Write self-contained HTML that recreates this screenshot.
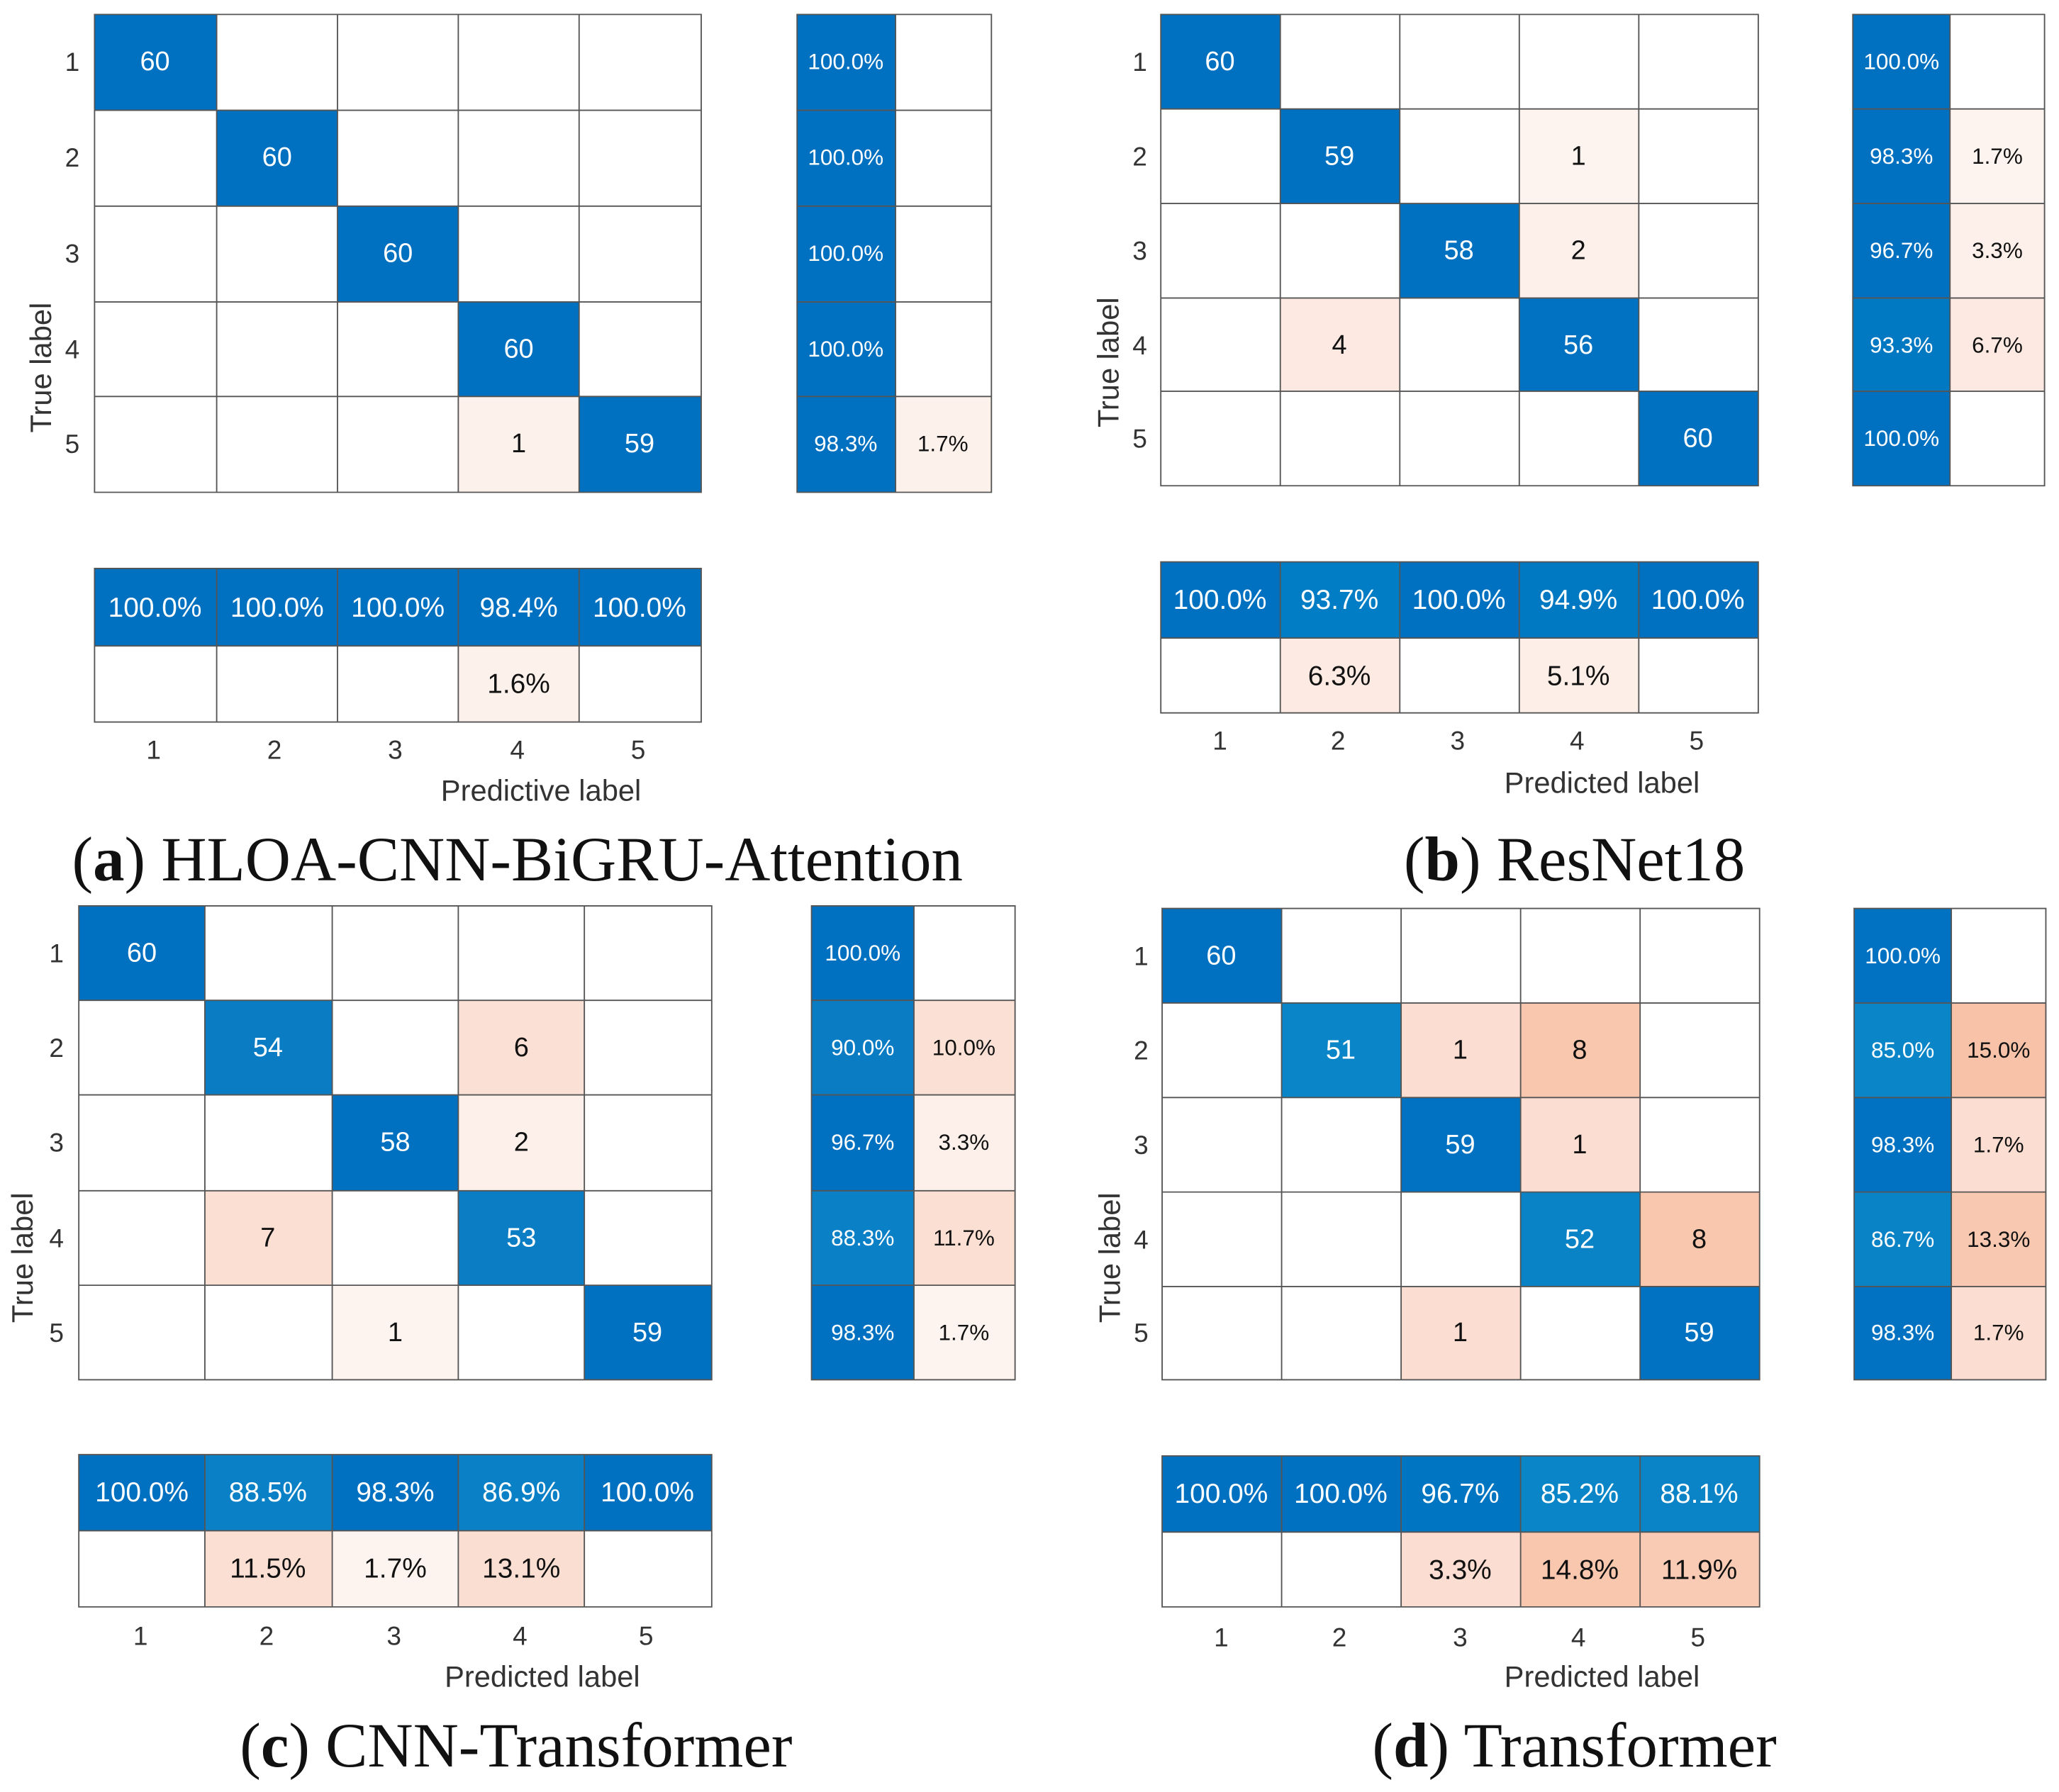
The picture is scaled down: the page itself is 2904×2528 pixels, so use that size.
<!DOCTYPE html>
<html><head><meta charset="utf-8"><style>
html,body{margin:0;padding:0;background:#fff;}
svg{display:block;}
.n{font-family:"Liberation Sans",sans-serif;font-size:20.5px;text-anchor:middle;dominant-baseline:central;}
.s{font-family:"Liberation Sans",sans-serif;font-size:17px;text-anchor:middle;dominant-baseline:central;}
.b{font-size:21px;}
.w{fill:#fff;} .k{fill:#111;}
.t{font-family:"Liberation Sans",sans-serif;font-size:20px;fill:#333;text-anchor:middle;dominant-baseline:central;}
.ax{font-family:"Liberation Sans",sans-serif;font-size:22.5px;fill:#333;text-anchor:middle;dominant-baseline:central;}
.cap{font-family:"Liberation Serif",serif;font-size:48px;fill:#111;text-anchor:middle;dominant-baseline:central;}
.g{fill:none;stroke:#555;stroke-width:1;}
</style></head><body>
<svg width="2904" height="2528" viewBox="0 0 1568 1365" xmlns="http://www.w3.org/2000/svg">
<rect width="1568" height="1365" fill="#fff"/>

<!-- ===== Panel A ===== -->
<g>
<rect x="72" y="11" width="93" height="73" fill="#0070c0"/>
<rect x="165" y="84" width="92" height="73" fill="#0070c0"/>
<rect x="257" y="157" width="92" height="73" fill="#0070c0"/>
<rect x="349" y="230" width="92" height="72" fill="#0070c0"/>
<rect x="441" y="302" width="93" height="73" fill="#0070c0"/>
<rect x="349" y="302" width="92" height="73" fill="#fdf1ec"/>
<path class="g" d="M72 11H534V375H72Z M165 11V375 M257 11V375 M349 11V375 M441 11V375 M72 84H534 M72 157H534 M72 230H534 M72 302H534"/>
<text class="n w" x="118" y="47">60</text><text class="n w" x="211" y="120">60</text><text class="n w" x="303" y="193">60</text><text class="n w" x="395" y="266">60</text><text class="n w" x="487" y="338">59</text><text class="n k" x="395" y="338">1</text>
<rect x="607" y="11" width="75" height="364" fill="#0070c0"/>
<rect x="682" y="302" width="73" height="73" fill="#fdf1ec"/>
<path class="g" d="M607 11H755V375H607Z M682 11V375 M607 84H755 M607 157H755 M607 230H755 M607 302H755"/>
<text class="s w" x="644" y="47">100.0%</text><text class="s w" x="644" y="120">100.0%</text><text class="s w" x="644" y="193">100.0%</text><text class="s w" x="644" y="266">100.0%</text><text class="s w" x="644" y="338">98.3%</text><text class="s k" x="718" y="338">1.7%</text>
<rect x="72" y="433" width="462" height="59" fill="#0070c0"/>
<rect x="349" y="492" width="92" height="58" fill="#fdf1ec"/>
<path class="g" d="M72 433H534V550H72Z M165 433V550 M257 433V550 M349 433V550 M441 433V550 M72 492H534"/>
<text class="n b w" x="118" y="463">100.0%</text><text class="n b w" x="211" y="463">100.0%</text><text class="n b w" x="303" y="463">100.0%</text><text class="n b w" x="395" y="463">98.4%</text><text class="n b w" x="487" y="463">100.0%</text><text class="n b k" x="395" y="521">1.6%</text>
<text class="t" x="55" y="47">1</text><text class="t" x="55" y="120">2</text><text class="t" x="55" y="193">3</text><text class="t" x="55" y="266">4</text><text class="t" x="55" y="338">5</text>
<text class="t" x="117" y="571">1</text><text class="t" x="209" y="571">2</text><text class="t" x="301" y="571">3</text><text class="t" x="394" y="571">4</text><text class="t" x="486" y="571">5</text>
<text class="ax" x="412" y="602">Predictive label</text>
<text class="ax" transform="translate(31,280) rotate(-90)">True label</text>
<text class="cap" x="394" y="655">(<tspan font-weight="bold">a</tspan>) HLOA-CNN-BiGRU-Attention</text>
</g>

<!-- ===== Panel B ===== -->
<g>
<rect x="884" y="11" width="91" height="72" fill="#0070c0"/>
<rect x="975" y="83" width="91" height="72" fill="#0070c0"/>
<rect x="1066" y="155" width="91" height="72" fill="#0070c0"/>
<rect x="1157" y="227" width="91" height="71" fill="#0072c1"/>
<rect x="1248" y="298" width="91" height="72" fill="#0070c0"/>
<rect x="1157" y="83" width="91" height="72" fill="#fdf3ef"/>
<rect x="1157" y="155" width="91" height="72" fill="#fdf0ea"/>
<rect x="975" y="227" width="91" height="71" fill="#fde9e1"/>
<path class="g" d="M884 11H1339V370H884Z M975 11V370 M1066 11V370 M1157 11V370 M1248 11V370 M884 83H1339 M884 155H1339 M884 227H1339 M884 298H1339"/>
<text class="n w" x="929" y="47">60</text><text class="n w" x="1020" y="119">59</text><text class="n w" x="1111" y="191">58</text><text class="n w" x="1202" y="263">56</text><text class="n w" x="1293" y="334">60</text>
<text class="n k" x="1202" y="119">1</text><text class="n k" x="1202" y="191">2</text><text class="n k" x="1020" y="263">4</text>
<rect x="1411" y="11" width="74" height="359" fill="#0070c0"/>
<rect x="1411" y="227" width="74" height="71" fill="#0079c2"/>
<rect x="1485" y="83" width="72" height="72" fill="#fdf3ef"/>
<rect x="1485" y="155" width="72" height="72" fill="#fdf0ea"/>
<rect x="1485" y="227" width="72" height="71" fill="#fde9e1"/>
<path class="g" d="M1411 11H1557V370H1411Z M1485 11V370 M1411 83H1557 M1411 155H1557 M1411 227H1557 M1411 298H1557"/>
<text class="s w" x="1448" y="47">100.0%</text><text class="s w" x="1448" y="119">98.3%</text><text class="s w" x="1448" y="191">96.7%</text><text class="s w" x="1448" y="263">93.3%</text><text class="s w" x="1448" y="334">100.0%</text>
<text class="s k" x="1521" y="119">1.7%</text><text class="s k" x="1521" y="191">3.3%</text><text class="s k" x="1521" y="263">6.7%</text>
<rect x="884" y="428" width="455" height="58" fill="#0070c0"/>
<rect x="975" y="428" width="91" height="58" fill="#007dc4"/>
<rect x="1157" y="428" width="91" height="58" fill="#0078c2"/>
<rect x="975" y="486" width="91" height="57" fill="#fdebe3"/>
<rect x="1157" y="486" width="91" height="57" fill="#fdeee7"/>
<path class="g" d="M884 428H1339V543H884Z M975 428V543 M1066 428V543 M1157 428V543 M1248 428V543 M884 486H1339"/>
<text class="n b w" x="929" y="457">100.0%</text><text class="n b w" x="1020" y="457">93.7%</text><text class="n b w" x="1111" y="457">100.0%</text><text class="n b w" x="1202" y="457">94.9%</text><text class="n b w" x="1293" y="457">100.0%</text>
<text class="n b k" x="1020" y="515">6.3%</text><text class="n b k" x="1202" y="515">5.1%</text>
<text class="t" x="868" y="47">1</text><text class="t" x="868" y="119">2</text><text class="t" x="868" y="191">3</text><text class="t" x="868" y="263">4</text><text class="t" x="868" y="334">5</text>
<text class="t" x="929" y="564">1</text><text class="t" x="1019" y="564">2</text><text class="t" x="1110" y="564">3</text><text class="t" x="1201" y="564">4</text><text class="t" x="1292" y="564">5</text>
<text class="ax" x="1220" y="596">Predicted label</text>
<text class="ax" transform="translate(844,276) rotate(-90)">True label</text>
<text class="cap" x="1199" y="655">(<tspan font-weight="bold">b</tspan>) ResNet18</text>
</g>

<!-- ===== Panel C ===== -->
<g>
<rect x="60" y="690" width="96" height="72" fill="#0070c0"/>
<rect x="156" y="762" width="97" height="72" fill="#0a7cc4"/>
<rect x="253" y="834" width="96" height="73" fill="#0070c0"/>
<rect x="349" y="907" width="96" height="72" fill="#0a7dc4"/>
<rect x="445" y="979" width="97" height="72" fill="#0070c0"/>
<rect x="349" y="762" width="96" height="72" fill="#fbe0d5"/>
<rect x="349" y="834" width="96" height="73" fill="#fdefe9"/>
<rect x="156" y="907" width="97" height="72" fill="#fbdfd3"/>
<rect x="253" y="979" width="96" height="72" fill="#fdf3ef"/>
<path class="g" d="M60 690H542V1051H60Z M156 690V1051 M253 690V1051 M349 690V1051 M445 690V1051 M60 762H542 M60 834H542 M60 907H542 M60 979H542"/>
<text class="n w" x="108" y="726">60</text><text class="n w" x="204" y="798">54</text><text class="n w" x="301" y="870">58</text><text class="n w" x="397" y="943">53</text><text class="n w" x="493" y="1015">59</text>
<text class="n k" x="397" y="798">6</text><text class="n k" x="397" y="870">2</text><text class="n k" x="204" y="943">7</text><text class="n k" x="301" y="1015">1</text>
<rect x="618" y="690" width="78" height="361" fill="#0070c0"/>
<rect x="618" y="762" width="78" height="72" fill="#0a7cc4"/>
<rect x="618" y="907" width="78" height="72" fill="#0a80c6"/>
<rect x="696" y="762" width="77" height="72" fill="#fbe0d5"/>
<rect x="696" y="834" width="77" height="73" fill="#fdefe9"/>
<rect x="696" y="907" width="77" height="72" fill="#fbdfd3"/>
<rect x="696" y="979" width="77" height="72" fill="#fdf3ef"/>
<path class="g" d="M618 690H773V1051H618Z M696 690V1051 M618 762H773 M618 834H773 M618 907H773 M618 979H773"/>
<text class="s w" x="657" y="726">100.0%</text><text class="s w" x="657" y="798">90.0%</text><text class="s w" x="657" y="870">96.7%</text><text class="s w" x="657" y="943">88.3%</text><text class="s w" x="657" y="1015">98.3%</text>
<text class="s k" x="734" y="798">10.0%</text><text class="s k" x="734" y="870">3.3%</text><text class="s k" x="734" y="943">11.7%</text><text class="s k" x="734" y="1015">1.7%</text>
<rect x="60" y="1108" width="482" height="58" fill="#0070c0"/>
<rect x="156" y="1108" width="97" height="58" fill="#0a80c6"/>
<rect x="349" y="1108" width="96" height="58" fill="#0a80c6"/>
<rect x="156" y="1166" width="97" height="58" fill="#fbdfd3"/>
<rect x="253" y="1166" width="96" height="58" fill="#fdf3ef"/>
<rect x="349" y="1166" width="96" height="58" fill="#fbded2"/>
<path class="g" d="M60 1108H542V1224H60Z M156 1108V1224 M253 1108V1224 M349 1108V1224 M445 1108V1224 M60 1166H542"/>
<text class="n b w" x="108" y="1137">100.0%</text><text class="n b w" x="204" y="1137">88.5%</text><text class="n b w" x="301" y="1137">98.3%</text><text class="n b w" x="397" y="1137">86.9%</text><text class="n b w" x="493" y="1137">100.0%</text>
<text class="n b k" x="204" y="1195">11.5%</text><text class="n b k" x="301" y="1195">1.7%</text><text class="n b k" x="397" y="1195">13.1%</text>
<text class="t" x="43" y="726">1</text><text class="t" x="43" y="798">2</text><text class="t" x="43" y="870">3</text><text class="t" x="43" y="943">4</text><text class="t" x="43" y="1015">5</text>
<text class="t" x="107" y="1246">1</text><text class="t" x="203" y="1246">2</text><text class="t" x="300" y="1246">3</text><text class="t" x="396" y="1246">4</text><text class="t" x="492" y="1246">5</text>
<text class="ax" x="413" y="1277">Predicted label</text>
<text class="ax" transform="translate(17,958) rotate(-90)">True label</text>
<text class="cap" x="393" y="1330">(<tspan font-weight="bold">c</tspan>) CNN-Transformer</text>
</g>

<!-- ===== Panel D ===== -->
<g>
<rect x="885" y="692" width="91" height="72" fill="#0070c0"/>
<rect x="976" y="764" width="91" height="72" fill="#0a86c8"/>
<rect x="1067" y="836" width="91" height="72" fill="#0072c1"/>
<rect x="1158" y="908" width="91" height="72" fill="#0a82c6"/>
<rect x="1249" y="980" width="91" height="71" fill="#0072c1"/>
<rect x="1067" y="764" width="91" height="72" fill="#fcddd1"/>
<rect x="1158" y="764" width="91" height="72" fill="#f9c6ae"/>
<rect x="1158" y="836" width="91" height="72" fill="#fcddd1"/>
<rect x="1249" y="908" width="91" height="72" fill="#f9c6ae"/>
<rect x="1067" y="980" width="91" height="71" fill="#fcddd1"/>
<path class="g" d="M885 692H1340V1051H885Z M976 692V1051 M1067 692V1051 M1158 692V1051 M1249 692V1051 M885 764H1340 M885 836H1340 M885 908H1340 M885 980H1340"/>
<text class="n w" x="930" y="728">60</text><text class="n w" x="1021" y="800">51</text><text class="n w" x="1112" y="872">59</text><text class="n w" x="1203" y="944">52</text><text class="n w" x="1294" y="1015">59</text>
<text class="n k" x="1112" y="800">1</text><text class="n k" x="1203" y="800">8</text><text class="n k" x="1203" y="872">1</text><text class="n k" x="1294" y="944">8</text><text class="n k" x="1112" y="1015">1</text>
<rect x="1412" y="692" width="74" height="359" fill="#0072c1"/>
<rect x="1412" y="764" width="74" height="72" fill="#0a86c8"/>
<rect x="1412" y="908" width="74" height="72" fill="#0a82c6"/>
<rect x="1486" y="764" width="72" height="72" fill="#f8c2a8"/>
<rect x="1486" y="836" width="72" height="72" fill="#fcddd1"/>
<rect x="1486" y="908" width="72" height="72" fill="#f9c8b0"/>
<rect x="1486" y="980" width="72" height="71" fill="#fcddd1"/>
<path class="g" d="M1412 692H1558V1051H1412Z M1486 692V1051 M1412 764H1558 M1412 836H1558 M1412 908H1558 M1412 980H1558"/>
<text class="s w" x="1449" y="728">100.0%</text><text class="s w" x="1449" y="800">85.0%</text><text class="s w" x="1449" y="872">98.3%</text><text class="s w" x="1449" y="944">86.7%</text><text class="s w" x="1449" y="1015">98.3%</text>
<text class="s k" x="1522" y="800">15.0%</text><text class="s k" x="1522" y="872">1.7%</text><text class="s k" x="1522" y="944">13.3%</text><text class="s k" x="1522" y="1015">1.7%</text>
<rect x="885" y="1109" width="455" height="58" fill="#0070c0"/>
<rect x="1067" y="1109" width="91" height="58" fill="#0076c2"/>
<rect x="1158" y="1109" width="91" height="58" fill="#0a86c8"/>
<rect x="1249" y="1109" width="91" height="58" fill="#0a84c6"/>
<rect x="1067" y="1167" width="91" height="57" fill="#fcddd1"/>
<rect x="1158" y="1167" width="91" height="57" fill="#f9c6ae"/>
<rect x="1249" y="1167" width="91" height="57" fill="#f9cbb5"/>
<path class="g" d="M885 1109H1340V1224H885Z M976 1109V1224 M1067 1109V1224 M1158 1109V1224 M1249 1109V1224 M885 1167H1340"/>
<text class="n b w" x="930" y="1138">100.0%</text><text class="n b w" x="1021" y="1138">100.0%</text><text class="n b w" x="1112" y="1138">96.7%</text><text class="n b w" x="1203" y="1138">85.2%</text><text class="n b w" x="1294" y="1138">88.1%</text>
<text class="n b k" x="1112" y="1196">3.3%</text><text class="n b k" x="1203" y="1196">14.8%</text><text class="n b k" x="1294" y="1196">11.9%</text>
<text class="t" x="869" y="728">1</text><text class="t" x="869" y="800">2</text><text class="t" x="869" y="872">3</text><text class="t" x="869" y="944">4</text><text class="t" x="869" y="1015">5</text>
<text class="t" x="930" y="1247">1</text><text class="t" x="1020" y="1247">2</text><text class="t" x="1112" y="1247">3</text><text class="t" x="1202" y="1247">4</text><text class="t" x="1293" y="1247">5</text>
<text class="ax" x="1220" y="1277">Predicted label</text>
<text class="ax" transform="translate(845,958) rotate(-90)">True label</text>
<text class="cap" x="1199" y="1330">(<tspan font-weight="bold">d</tspan>) Transformer</text>
</g>
</svg>
</body></html>
